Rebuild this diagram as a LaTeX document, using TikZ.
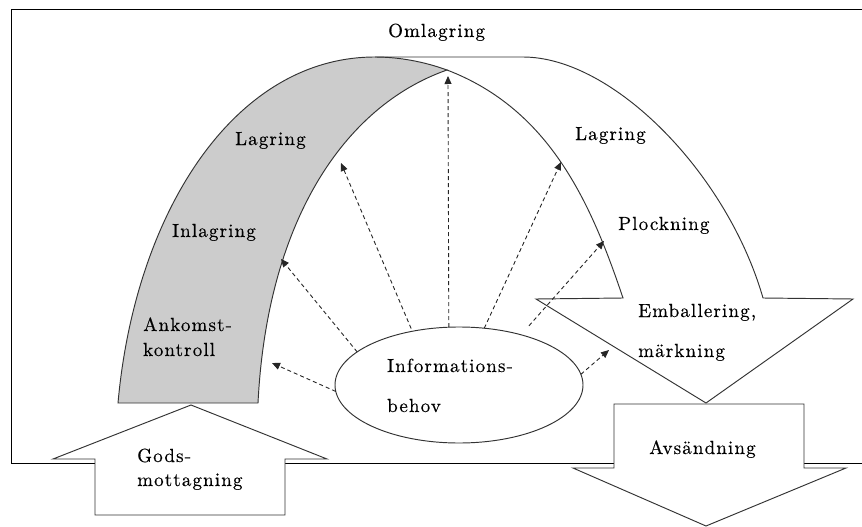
\documentclass[tikz,border=0pt]{standalone}
\usepackage{fontspec}
\newfontfamily\lblfont{lmroman10-regular}[Extension=.otf, LetterSpace=6, FakeBold=0.4]
\usetikzlibrary{arrows.meta,shapes.geometric}
\begin{document}
\begin{tikzpicture}[x=1pt,y=-1pt,
  ln/.style={draw=black!80, line width=0.95pt},
  lbl/.style={font=\lblfont\fontsize{19}{23}\selectfont, inner sep=0pt, anchor=base west, text=black},
  dsh/.style={draw=black!85, line width=0.9pt, dash pattern=on 4pt off 3pt, -{Triangle[length=8pt,width=7pt]}}]
\useasboundingbox (0,0) rectangle (862,527);
% frame
\draw[line width=0.95pt, draw=black] (862,9) -- (11,9) -- (11,463) -- (862,463);
% gray left part of the arch
\filldraw[ln, fill=black!20] (118,403) .. controls (135,213) and (234,57) .. (375,57)
  .. controls (400,57) and (425,62) .. (447,70)
  .. controls (343,106.5) and (267,223) .. (258,403) -- cycle;
% white curved arrow (Omlagring)
\draw[ln, line join=miter] (375,57) -- (523,57) .. controls (613,57) and (727,173) .. (763,298)
  -- (853,299) -- (706,403) -- (536,299) -- (623,298)
  .. controls (591,203) and (550,109.5) .. (447,70);
% Godsmottagning arrow
\filldraw[ln, fill=white, line join=miter] (191,405) -- (327,459) -- (285,459) -- (285,515) -- (95,515) -- (95,459) -- (53,459) -- cycle;
% Avsandning arrow
\filldraw[ln, fill=white, line join=miter] (614,404) -- (804,404) -- (804,468) -- (846,468) -- (706,526) -- (573,468) -- (614,468) -- cycle;
% ellipse
\node[ellipse, ln, fill=white, minimum width=248pt, minimum height=116pt, inner sep=0pt, outer sep=0pt] (info) at (459,385) {};
% labels
\node[lbl] (omlag) at (388,37) {Omlagring};
\node[lbl] (lag1) at (235,145) {Lagring};
\node[lbl] (inlag) at (172,237) {Inlagring};
\node[lbl] (ank1) at (143,331) {Ankomst-};
\node[lbl] (ank2) at (143,356) {kontroll};
\node[lbl] (lag2) at (575,140) {Lagring};
\node[lbl] (plock) at (618,230) {Plockning};
\node[lbl] (emb1) at (638,317) {Emballering,};
\node[lbl] (emb2) at (638,357) {märkning};
\node[lbl] (inf1) at (387,372) {Informations-};
\node[lbl] (inf2) at (387,412) {behov};
\node[lbl] (avs) at (649,454) {Avsändning};
\node[lbl] (gods1) at (137,462) {Gods-};
\node[lbl] (gods2) at (137,486) {mottagning};
% dashed information arrows
\coordinate (t1) at (272,363);
\coordinate (t2) at (281,259);
\coordinate (t3) at (341,163);
\coordinate (t4) at (448,76);
\coordinate (t5) at (561,162);
\coordinate (t6) at (604,241);
\coordinate (t7) at (609,350);
\draw[dsh] (info.183) -- (t1);
\draw[dsh] (info.162) -- (t2);
\draw[dsh, shorten <=3pt] (info.131) -- (t3);
\draw[dsh] (info.100.8) -- (t4);
\draw[dsh] (info.66) -- (t5);
\draw[dsh, shorten <=12pt] (info.39) -- (t6);
\draw[dsh] (info.5) -- (t7);
\end{tikzpicture}
\end{document}
